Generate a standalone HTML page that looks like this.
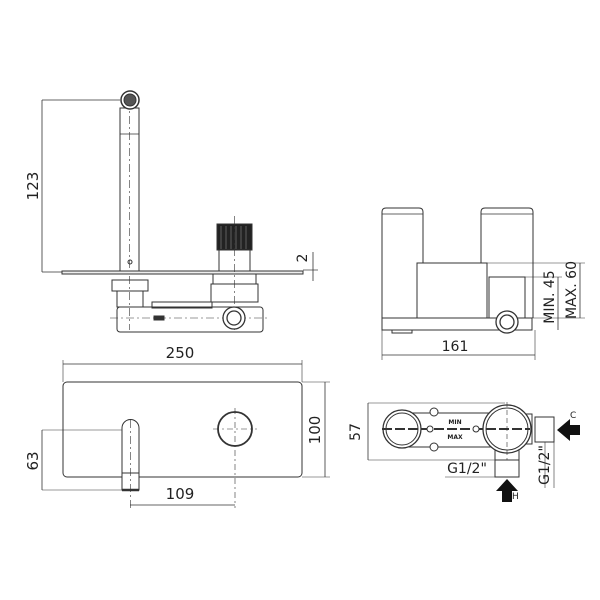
<!DOCTYPE html>
<html><head><style>body{margin:0;background:#fff}svg{display:block}text{font-family:"DejaVu Sans","Liberation Sans",sans-serif;fill:#222}</style></head><body>
<svg width="600" height="600" viewBox="0 0 600 600" xmlns="http://www.w3.org/2000/svg" fill="none" stroke="#333" stroke-width="1">
<!-- side view left -->
<line x1="42" y1="100" x2="120" y2="100" stroke-width="0.7"/>
<line x1="42" y1="272" x2="120" y2="272" stroke-width="0.7"/>
<line x1="42" y1="100" x2="42" y2="272" stroke-width="0.8"/>
<text x="38" y="186" font-size="15" transform="rotate(-90 38 186)" text-anchor="middle" stroke="none">123</text>
<rect x="120" y="108" width="19" height="164" fill="#fff"/>
<line x1="120" y1="134" x2="139" y2="134" stroke-width="0.7"/>
<line x1="129.5" y1="100" x2="129.5" y2="330" stroke-dasharray="8,3,2,3" stroke-width="0.6"/>
<circle cx="130" cy="100" r="9" fill="#fff" stroke-width="1.5"/>
<circle cx="130" cy="100" r="6" fill="#555"/>
<circle cx="130" cy="262" r="2"/>
<rect x="62" y="271" width="241" height="3" fill="#eee"/>
<line x1="303" y1="270" x2="318" y2="270" stroke-width="0.7"/>
<line x1="313" y1="252" x2="313" y2="281" stroke-width="0.8"/>
<text x="307" y="258" font-size="14" transform="rotate(-90 307 258)" text-anchor="middle" stroke="none">2</text>
<rect x="217" y="224" width="35" height="26" fill="#222"/>
<g stroke="#888" stroke-width="0.6"><line x1="221" y1="226" x2="221" y2="249"/><line x1="226" y1="226" x2="226" y2="249"/><line x1="231" y1="226" x2="231" y2="249"/><line x1="236" y1="226" x2="236" y2="249"/><line x1="241" y1="226" x2="241" y2="249"/><line x1="246" y1="226" x2="246" y2="249"/></g>
<rect x="219" y="250" width="31" height="21"/>
<line x1="234.5" y1="216" x2="234.5" y2="330" stroke-dasharray="8,3,2,3" stroke-width="0.6"/>
<rect x="213" y="274" width="43" height="10"/>
<rect x="211" y="284" width="47" height="18"/>
<rect x="112" y="280" width="36" height="11"/>
<rect x="117" y="291" width="26" height="16"/>
<rect x="152" y="302" width="60" height="6"/>
<rect x="117" y="307" width="146" height="25" rx="3"/>
<line x1="110" y1="318" x2="270" y2="318" stroke-dasharray="8,3,2,3" stroke-width="0.6"/>
<rect x="154" y="316" width="10" height="4" fill="#333"/>
<circle cx="234" cy="318" r="11" fill="#fff" stroke-width="1.3"/>
<circle cx="234" cy="318" r="7" stroke-width="1.3"/>
<!-- side view right -->
<path d="M382 318 V212 Q382 208 386 208 H419 Q423 208 423 212 V318" fill="#fff"/>
<line x1="382" y1="214" x2="423" y2="214" stroke-width="0.7"/>
<path d="M481 263 V212 Q481 208 485 208 H529 Q533 208 533 212 V318" fill="#fff"/>
<line x1="481" y1="214" x2="533" y2="214" stroke-width="0.7"/>
<rect x="417" y="263" width="70" height="55" fill="#fff"/>
<rect x="489" y="277" width="36" height="41" fill="#fff"/>
<rect x="382" y="318" width="150" height="12" fill="#fff"/>
<rect x="392" y="330" width="20" height="3"/>
<circle cx="507" cy="322" r="11" fill="#fff" stroke-width="1.3"/>
<circle cx="507" cy="322" r="7" stroke-width="1.3"/>
<line x1="487" y1="263" x2="585" y2="263" stroke-width="0.6"/>
<line x1="525" y1="277" x2="562" y2="277" stroke-width="0.6"/>
<line x1="525" y1="318" x2="585" y2="318" stroke-width="0.6"/>
<line x1="558" y1="277" x2="558" y2="330" stroke-width="0.8"/>
<line x1="580" y1="263" x2="580" y2="318" stroke-width="0.8"/>
<text x="554" y="297" font-size="14" transform="rotate(-90 554 297)" text-anchor="middle" stroke="none">MIN. 45</text>
<text x="576" y="290" font-size="14" transform="rotate(-90 576 290)" text-anchor="middle" stroke="none">MAX. 60</text>
<line x1="382" y1="330" x2="382" y2="360" stroke-width="0.6"/>
<line x1="535" y1="330" x2="535" y2="360" stroke-width="0.6"/>
<line x1="382" y1="355" x2="535" y2="355" stroke-width="0.8"/>
<text x="455" y="351" font-size="14" text-anchor="middle" stroke="none">161</text>
<!-- front view -->
<line x1="63" y1="364" x2="302" y2="364" stroke-width="0.8"/>
<line x1="63" y1="360" x2="63" y2="382" stroke-width="0.6"/>
<line x1="302" y1="360" x2="302" y2="382" stroke-width="0.6"/>
<text x="180" y="358" font-size="15" text-anchor="middle" stroke="none">250</text>
<rect x="63" y="382" width="239" height="95" rx="4"/>
<line x1="302" y1="382" x2="330" y2="382" stroke-width="0.6"/>
<line x1="302" y1="477" x2="330" y2="477" stroke-width="0.6"/>
<line x1="325" y1="382" x2="325" y2="477" stroke-width="0.8"/>
<text x="320" y="430" font-size="15" transform="rotate(-90 320 430)" text-anchor="middle" stroke="none">100</text>
<path d="M122 490 V428 A8.5 8.5 0 0 1 139 428 V490 Z" fill="#fff"/>
<line x1="122" y1="473" x2="139" y2="473"/>
<line x1="122" y1="490" x2="139" y2="490" stroke-width="2.5"/>
<line x1="130.5" y1="420" x2="130.5" y2="510" stroke-dasharray="8,3,2,3" stroke-width="0.6"/>
<line x1="42" y1="430" x2="122" y2="430" stroke-width="0.6"/>
<line x1="42" y1="490" x2="122" y2="490" stroke-width="0.6"/>
<line x1="42" y1="430" x2="42" y2="490" stroke-width="0.8"/>
<text x="38" y="461" font-size="15" transform="rotate(-90 38 461)" text-anchor="middle" stroke="none">63</text>
<circle cx="235" cy="429" r="17" stroke-width="1.8"/>
<line x1="213" y1="429" x2="257" y2="429" stroke-dasharray="6,3,2,3" stroke-width="0.6"/>
<line x1="235" y1="408" x2="235" y2="508" stroke-dasharray="6,3,2,3" stroke-width="0.6"/>
<line x1="130" y1="505" x2="235" y2="505" stroke-width="0.8"/>
<text x="180" y="499" font-size="15" text-anchor="middle" stroke="none">109</text>
<!-- top view -->
<line x1="368" y1="403" x2="505" y2="403" stroke-width="0.6"/>
<line x1="368" y1="460" x2="495" y2="460" stroke-width="0.6"/>
<line x1="368" y1="403" x2="368" y2="460" stroke-width="0.8"/>
<text x="360" y="432" font-size="14" transform="rotate(-90 360 432)" text-anchor="middle" stroke="none">57</text>
<rect x="400" y="413" width="110" height="34" rx="3"/>
<circle cx="434" cy="412" r="4" fill="#fff"/><circle cx="434" cy="447" r="4" fill="#fff"/>
<circle cx="402" cy="429" r="19" fill="#fff" stroke-width="1.3"/>
<circle cx="402" cy="429" r="16"/>
<rect x="520" y="414" width="12" height="30"/>
<rect x="495" y="440" width="24" height="20"/>
<circle cx="507" cy="429" r="24" fill="#fff" stroke-width="1.3"/>
<circle cx="507" cy="429" r="21"/>
<line x1="382" y1="429" x2="530" y2="429" stroke-width="2" stroke-dasharray="10,3"/>
<circle cx="430" cy="429" r="3" fill="#fff"/><circle cx="476" cy="429" r="3" fill="#fff"/>
<text x="455" y="424" font-size="6" font-weight="bold" text-anchor="middle" stroke="none">MIN</text>
<text x="455" y="439" font-size="6" font-weight="bold" text-anchor="middle" stroke="none">MAX</text>
<line x1="507" y1="402" x2="507" y2="460" stroke-dasharray="5,3" stroke-width="0.6"/>
<rect x="535" y="417" width="19" height="25"/>
<line x1="545" y1="442" x2="545" y2="488" stroke-width="0.6"/>
<line x1="554" y1="442" x2="554" y2="488" stroke-width="0.6"/>
<path d="M557 430 L570 419 V425 H580 V435 H570 V441 Z" fill="#111" stroke="none"/>
<text x="570" y="418" font-size="9" stroke="none">C</text>
<text x="549" y="465" font-size="14" transform="rotate(-90 549 465)" text-anchor="middle" stroke="none">G1/2"</text>
<rect x="495" y="460" width="24" height="17"/>
<line x1="445" y1="477" x2="519" y2="477" stroke-width="0.6"/>
<text x="467" y="473" font-size="14" text-anchor="middle" stroke="none">G1/2"</text>
<path d="M507 479 L518 491 H512 V502 H502 V491 H496 Z" fill="#111" stroke="none"/>
<text x="512" y="499" font-size="9" stroke="none">H</text>
</svg>
</body></html>
